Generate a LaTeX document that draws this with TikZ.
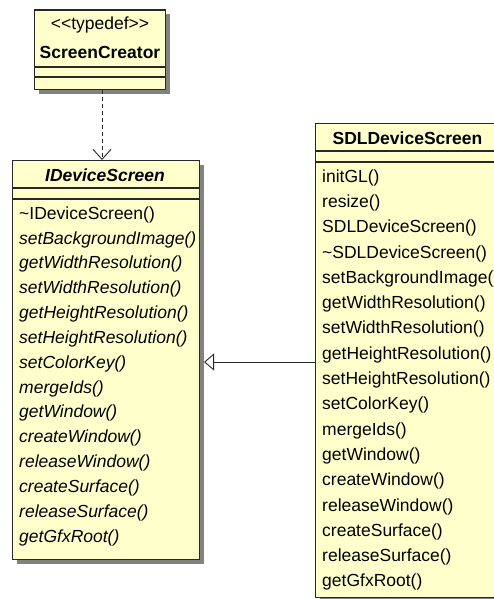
\documentclass[tikz,border=0pt]{standalone}
\usepackage{fontspec}
\newfontfamily\umlfont{Liberation Sans}
\usetikzlibrary{arrows.meta}
\definecolor{umlfill}{RGB}{255,255,204}
\definecolor{umlshadow}{RGB}{130,130,130}
\definecolor{umlline}{RGB}{40,40,40}

\begin{document}
\begin{tikzpicture}[x=1pt,y=-1pt,
  classbox/.style={draw=umlline, line width=1.4pt, fill=umlfill, rectangle,
    inner sep=0pt, anchor=north west},
  shadowbox/.style={fill=umlshadow},
  sep/.style={draw=umlline, line width=1.4pt},
  txt/.style={font=\umlfont\fontsize{17.5}{20}\selectfont, inner sep=0pt, text=black},
  title/.style={txt, font=\umlfont\fontsize{17.5}{20}\selectfont\bfseries},
  member/.style={txt, anchor=mid west, yshift=-3pt},
  absmember/.style={member, font=\umlfont\fontsize{17.5}{20}\selectfont\itshape},
  dep/.style={draw=umlline, line width=0.9pt, dash pattern=on 4pt off 3pt,
    -{Straight Barb[length=10pt,width=18pt,line width=0.9pt]}},
  gen/.style={draw=umlline, line width=0.9pt,
    -{Triangle[open,length=10pt,width=17pt,line width=0.9pt,fill=white]}}
]
\useasboundingbox (0,0) rectangle (494,599);
\clip (0,0) rectangle (494,599);

% ---------- ScreenCreator ----------
\fill[shadowbox] (39,14.5) rectangle (170,94);
\node[classbox, minimum width=131pt, minimum height=79.5pt] (sc) at (34,9.5) {};
\draw[sep] (sc.west |- 0,67) -- (sc.east |- 0,67);
\draw[sep] (sc.west |- 0,77) -- (sc.east |- 0,77);
\node[txt] (scstereo) at (100,25) {<\kern0pt<typedef>\kern0pt>};
\node[title] (scname) at (100,52) {ScreenCreator};

% ---------- IDeviceScreen ----------
\fill[shadowbox] (16.5,165) rectangle (204,564);
\node[classbox, minimum width=187.5pt, minimum height=399pt] (idev) at (11.5,160) {};
\draw[sep] (idev.west |- 0,188) -- (idev.east |- 0,188);
\draw[sep] (idev.west |- 0,199) -- (idev.east |- 0,199);
\node[title, font=\umlfont\fontsize{17.5}{20}\selectfont\bfseries\itshape] (idevname) at (105,175) {IDeviceScreen};
\foreach \name [count=\i from 0] in {
    setBackgroundImage(), getWidthResolution(), setWidthResolution(),
    getHeightResolution(), setHeightResolution(), setColorKey(), mergeIds(),
    getWindow(), createWindow(), releaseWindow(), createSurface(),
    releaseSurface(), getGfxRoot()}
  \node[absmember] (im\i) at (19,{238.85+24.85*\i}) {\name};
\node[member] (imdtor) at (19,214) {\textasciitilde IDeviceScreen()};

% ---------- SDLDeviceScreen ----------
\fill[shadowbox] (320,128) rectangle (505,602);
\node[classbox, minimum width=185pt, minimum height=474pt] (sdl) at (315,123) {};
\draw[sep] (sdl.west |- 0,151) -- (sdl.east |- 0,151);
\draw[sep] (sdl.west |- 0,162) -- (sdl.east |- 0,162);
\node[title] (sdlname) at (407.5,138) {SDLDeviceScreen};
\foreach \name [count=\i from 0] in {
    initGL(), resize(), SDLDeviceScreen(), \textasciitilde SDLDeviceScreen(),
    setBackgroundImage(), getWidthResolution(), setWidthResolution(),
    getHeightResolution(), setHeightResolution(), setColorKey(), mergeIds(),
    getWindow(), createWindow(), releaseWindow(), createSurface(),
    releaseSurface(), getGfxRoot()}
  \node[member] (sm\i) at (322,{177+25.3*\i}) {\name};

% ---------- Relations ----------
\coordinate (depx) at (102,0);
\draw[dep] (sc.south -| depx) -- (idev.north -| depx);
\coordinate (geny) at (0,362);
\coordinate (gentip) at (204,362);
\draw[gen] (sdl.west |- geny) -- (gentip);
\end{tikzpicture}
\end{document}
